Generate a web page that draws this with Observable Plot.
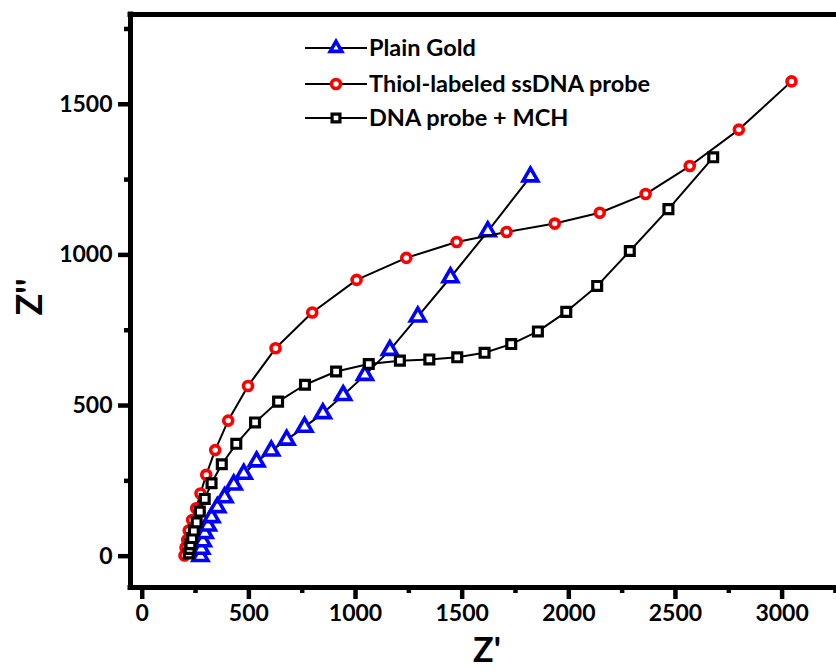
<!DOCTYPE html>
<html>
<head>
<meta charset="utf-8">
<script src="https://cdn.jsdelivr.net/npm/d3@7"></script>
<script src="https://cdn.jsdelivr.net/npm/@observablehq/plot@0.6"></script>
<style>
  html, body { margin: 0; padding: 0; background: #fff; }
  #wrap { position: relative; width: 836px; height: 672px; font-family: Lato, "Open Sans", sans-serif; }
  #wrap svg { display: block; }
  .lbl { position: absolute; font-weight: bold; color: #000; white-space: nowrap; }
</style>
</head>
<body>
<div id="wrap"></div>
<script>
// ---- data ----
const seriesNames = ["Plain Gold", "Thiol-labeled ssDNA probe", "DNA probe + MCH"];

const plainGoldX = [273, 277, 284, 293, 308, 325, 352, 386, 429, 476, 536, 605, 677, 761, 847, 942, 1044, 1161, 1292, 1445, 1620, 1820];
const plainGoldY = [0, 24, 49, 76, 101, 129, 162, 195, 237, 273, 314, 350, 386, 429, 474, 534, 601, 684, 795, 925, 1078, 1260];

const thiolX = [198, 203, 211, 218, 234, 253, 273, 300, 342, 403, 496, 625, 797, 1005, 1238, 1474, 1708, 1934, 2145, 2360, 2567, 2797, 3044];
const thiolY = [2, 29, 54, 85, 120, 159, 208, 270, 352, 450, 565, 690, 809, 917, 990, 1043, 1076, 1104, 1140, 1202, 1295, 1416, 1576];

const mchX = [218, 222, 226, 234, 242, 255, 270, 293, 325, 373, 441, 529, 637, 763, 909, 1062, 1208, 1346, 1477, 1605, 1730, 1855, 1988, 2133, 2286, 2467, 2677];
const mchY = [9, 24, 40, 60, 85, 112, 148, 190, 242, 305, 373, 444, 513, 569, 613, 638, 649, 653, 660, 675, 704, 746, 811, 897, 1013, 1152, 1324];

const xMajorTicks = [0, 500, 1000, 1500, 2000, 2500, 3000];
const xMinorTicks = [250, 750, 1250, 1750, 2250, 2750, 3250];
const yMajorTicks = [0, 500, 1000, 1500];
const yMinorTicks = [250, 750, 1250, 1750];

const xLabel = "Z'";
const yLabel = "Z''";

// ---- build tables ----
const toRows = (xs, ys) => xs.map((x, i) => ({x, y: ys[i]}));
const plainGold = toRows(plainGoldX, plainGoldY);
const thiol = toRows(thiolX, thiolY);
const mch = toRows(mchX, mchY);

const xDomain = [-55, 3255];
const yDomain = [-104, 1798];
const font = "Lato, 'Open Sans', sans-serif";
const tickFont = {fontSize: 23, fontWeight: "bold", fontFamily: font};
const plain = (d) => String(d);

const chart = Plot.plot({
  width: 836,
  height: 672,
  marginTop: 14,
  marginBottom: 85,
  marginLeft: 130,
  marginRight: 0,
  x: {domain: xDomain, axis: null},
  y: {domain: yDomain, axis: null},
  style: {background: "#fff", color: "#000", overflow: "visible"},
  marks: [
    // series
    Plot.line(plainGold, {x: "x", y: "y", stroke: "#000", strokeWidth: 2}),
    Plot.dot(plainGold, {x: "x", y: "y", symbol: "triangle", r: 5.5, stroke: "#0000ff", fill: "#fff", strokeWidth: 3.6}),
    Plot.line(thiol, {x: "x", y: "y", stroke: "#000", strokeWidth: 2}),
    Plot.dot(thiol, {x: "x", y: "y", symbol: "circle", r: 4.5, stroke: "#ff0000", fill: "#fff", strokeWidth: 3.6}),
    Plot.line(mch, {x: "x", y: "y", stroke: "#000", strokeWidth: 2}),
    Plot.dot(mch, {x: "x", y: "y", symbol: "square", r: 5, stroke: "#000", fill: "#fff", strokeWidth: 3.2}),
    // frame lines (left, bottom, top)
    Plot.ruleX([xDomain[0]], {stroke: "#000", strokeWidth: 5, strokeLinecap: "square"}),
    Plot.ruleY([yDomain[0]], {stroke: "#000", strokeWidth: 5, strokeLinecap: "square"}),
    Plot.ruleY([yDomain[1]], {stroke: "#000", strokeWidth: 5, strokeLinecap: "square"}),
    // axes
    Plot.axisX(xMajorTicks, {anchor: "bottom", tickSize: 12, stroke: "#000", strokeWidth: 4.5, tickPadding: 5, tickFormat: plain, label: null, ...tickFont}),
    Plot.axisX(xMinorTicks, {anchor: "bottom", tickSize: 6, stroke: "#000", strokeWidth: 4.5, tickFormat: () => "", label: null}),
    Plot.axisY(yMajorTicks, {anchor: "left", tickSize: 12, stroke: "#000", strokeWidth: 4.5, tickPadding: 6, tickFormat: plain, label: null, ...tickFont}),
    Plot.axisY(yMinorTicks, {anchor: "left", tickSize: 6, stroke: "#000", strokeWidth: 4.5, tickFormat: () => "", label: null})
  ]
});

const wrap = document.getElementById("wrap");
wrap.appendChild(chart);

// axis titles
const xl = document.createElement("div");
xl.className = "lbl";
xl.textContent = xLabel;
xl.style.cssText += "font-size:34px; left:487px; top:632px; transform:translateX(-50%); line-height:1;";
wrap.appendChild(xl);

const yl = document.createElement("div");
yl.className = "lbl";
yl.textContent = yLabel;
yl.style.cssText += "font-size:36px; left:28px; top:297px; transform:translate(-50%,-50%) rotate(-90deg); line-height:1;";
wrap.appendChild(yl);

// legend
const legendColors = ["#0000ff", "#ff0000", "#000"];
const legendSymbols = [d3.symbolTriangle2, d3.symbolCircle, d3.symbolSquare2];
const legendR = [5.5, 4.5, 5];
const legendStroke = [3.6, 3.6, 3.2];
const rowY = [48, 84, 118];
const leg = d3.create("svg").attr("width", 836).attr("height", 672)
  .style("position", "absolute").style("left", "0px").style("top", "0px").style("pointer-events", "none");
seriesNames.forEach((name, i) => {
  const g = leg.append("g").attr("transform", `translate(0,${rowY[i]})`);
  g.append("line").attr("x1", 305).attr("x2", 367).attr("y1", 0).attr("y2", 0).attr("stroke", "#000").attr("stroke-width", 2);
  g.append("path").attr("transform", "translate(336,0)")
    .attr("d", d3.symbol(legendSymbols[i], legendR[i] * legendR[i] * Math.PI)())
    .attr("fill", "#fff").attr("stroke", legendColors[i]).attr("stroke-width", legendStroke[i]);
  g.append("text").attr("x", 369).attr("y", 0).attr("dy", "0.35em")
    .attr("font-family", font).attr("font-weight", "bold").attr("font-size", 23.5).text(name);
});
wrap.appendChild(leg.node());
</script>
</body>
</html>
